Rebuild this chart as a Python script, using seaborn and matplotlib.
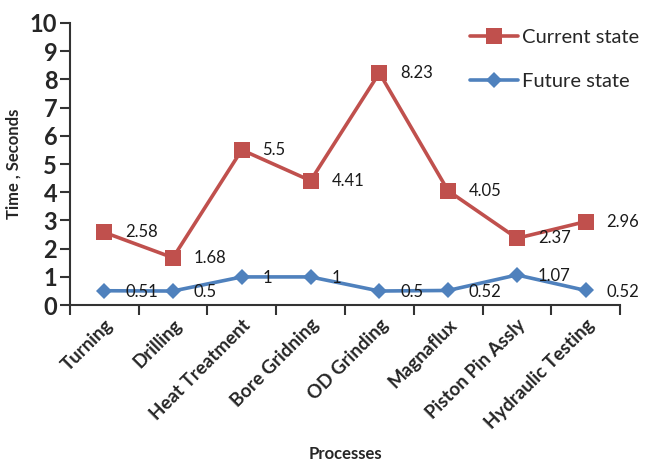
import numpy as np
import pandas as pd
import matplotlib
matplotlib.use("Agg")
import matplotlib.pyplot as plt
from matplotlib.lines import Line2D
import seaborn as sns

processes = ["Turning", "Drilling", "Heat Treatment", "Bore Gridning",
             "OD Grinding", "Magnaflux", "Piston Pin Assly", "Hydraulic Testing"]
current_state = [2.58, 1.68, 5.5, 4.41, 8.23, 4.05, 2.37, 2.96]
future_state = [0.51, 0.5, 1, 1, 0.5, 0.52, 1.07, 0.52]
y_ticks = list(range(0, 11))

sns.set_style("white")
plt.rcParams["font.family"] = ["Lato", "DejaVu Sans"]

RED = "#C0504D"
BLUE = "#4F81BD"

pos = np.arange(len(processes))
df = pd.DataFrame({
    "pos": np.concatenate([pos, pos]),
    "time": current_state + future_state,
    "series": ["Current state"] * len(pos) + ["Future state"] * len(pos),
})

fig = plt.figure(figsize=(6.46, 4.68), dpi=100)
ax = fig.add_axes([0.108, 0.348, 0.852, 0.603])

sns.lineplot(data=df, x="pos", y="time", hue="series", style="series",
             markers={"Current state": "s", "Future state": "D"},
             dashes=False, palette={"Current state": RED, "Future state": BLUE},
             linewidth=2.6, markersize=11, markeredgewidth=0, ax=ax, legend=False)
# diamonds a bit smaller than squares
for line in ax.lines:
    if line.get_marker() == "D":
        line.set_markersize(8.5)

for x, v in zip(pos, current_state):
    ax.annotate(f"{v:g}", (x, v), xytext=(15, 0), textcoords="offset points",
                va="center", ha="left", fontsize=12, color="#1a1a1a")
for x, v in zip(pos, future_state):
    ax.annotate(f"{v:g}", (x, v), xytext=(15, -1), textcoords="offset points",
                va="center", ha="left", fontsize=12, color="#1a1a1a")

ax.set_xlim(-0.5, len(processes) - 0.5)
ax.set_ylim(0, 10)
ax.set_yticks(y_ticks)
ax.set_yticklabels([str(t) for t in y_ticks], fontsize=17, fontweight="bold")

ax.set_xticks(pos)
ax.set_xticklabels(processes, rotation=45, ha="right", rotation_mode="anchor",
                   fontsize=13.5, fontweight="bold")
ax.set_xticks(np.arange(-0.5, len(processes)), minor=True)
ax.tick_params(axis="x", which="major", length=0, pad=8)
ax.tick_params(axis="x", which="minor", length=7, width=1.5, color="#333333",
               direction="out", bottom=True)
ax.tick_params(axis="y", which="major", length=7, width=1.5, color="#333333",
               direction="out", left=True, pad=2)

for side in ("top", "right"):
    ax.spines[side].set_visible(False)
for side in ("left", "bottom"):
    ax.spines[side].set_color("#333333")
    ax.spines[side].set_linewidth(1.5)

ax.set_xlabel("Processes", fontsize=12, fontweight="bold", labelpad=10)
ax.set_ylabel("Time , Seconds", fontsize=12, fontweight="bold", labelpad=6)

handles = [
    Line2D([], [], color=RED, marker="s", markersize=11, linewidth=2.6, markeredgewidth=0),
    Line2D([], [], color=BLUE, marker="D", markersize=8.5, linewidth=2.6, markeredgewidth=0),
]
fig.legend(handles, ["Current state", "Future state"], loc="upper left",
           bbox_to_anchor=(0.715, 0.955), frameon=False, fontsize=14.5,
           handlelength=2.4, handletextpad=0.2, labelspacing=1.35,
           borderaxespad=0)

fig.savefig("out.png", dpi=100)
